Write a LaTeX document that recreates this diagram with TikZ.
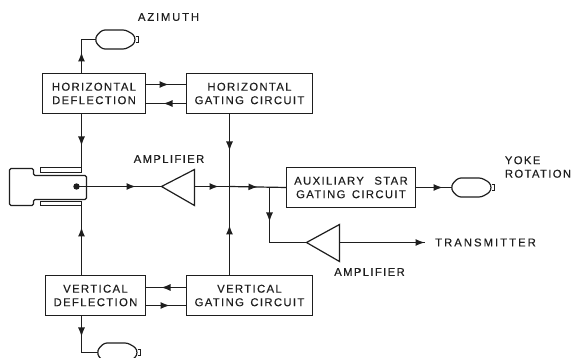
\documentclass[tikz,border=0pt]{standalone}
\usepackage{fontspec}
\setmainfont{Liberation Sans}[LetterSpace=12,FakeBold=0.25]
\usetikzlibrary{arrows.meta,decorations.markings}
\definecolor{ink}{HTML}{1E1E1E}
\tikzset{
  wire/.style={draw=ink,line width=1.2pt},
  tip/.style={wire,postaction={decorate},decoration={markings,
      mark=at position #1 with {\arrow[ink]{Latex[length=9pt,width=7pt]}}}},
  block/.style={draw=ink,line width=1.2pt,inner sep=0pt,outer sep=0pt,align=center,
      minimum height=40pt,text=ink,font=\fontsize{11.3}{13.5}\selectfont},
  label/.style={inner sep=0pt,text=ink,align=left,font=\fontsize{11.3}{13.5}\selectfont}
}
% lamp outline, drawn from its left end
\newcommand{\lamp}[1]{%
  \draw[wire,rounded corners=2.5pt] (#1) -- ++(1,-4) -- ++(6,-5.5) -- ++(23,0)
    -- ++(8,4.5) -- ++(2,5) -- ++(-2,5) -- ++(-8,4.5) -- ++(-23,0) -- ++(-6,-5.5) -- cycle;
  \draw[wire] (#1) ++(40,-3) -- ++(3,0) -- ++(0,6) -- ++(-3,0);
}
\begin{document}
\begin{tikzpicture}[x=1pt,y=-1pt]
  \useasboundingbox[fill=white] (0,0) rectangle (571,358);
  \clip (0,0) rectangle (571,358);

  % BLOCKS
  \node[block,minimum width=103pt] (hdefl) at (94,93.5) {HORIZONTAL\\DEFLECTION};
  \node[block,minimum width=126pt] (hgate) at (249.5,93.5) {HORIZONTAL\\GATING\hspace{2pt} CIRCUIT};
  \node[block,minimum width=100pt] (vdefl) at (95.5,295.5) {VERTICAL\\DEFLECTION};
  \node[block,minimum width=126pt] (vgate) at (249.5,295.5) {VERTICAL\\GATING\hspace{2pt} CIRCUIT};
  \node[block,minimum width=129pt] (auxgate) at (351,187.5) {AUXILIARY\hspace{6pt} STAR\\GATING\hspace{2pt} CIRCUIT};

  % TEXTS
  \node[label] (azimuth) at (168.5,17) {\addfontfeatures{LetterSpace=16}AZIMUTH};
  \node[label] (amptop) at (169,159) {AMPLIFIER};
  \node[label] (ampbot) at (369.5,272) {AMPLIFIER};
  \node[label] (yoke) at (538,167) {YOKE\\ROTATION};
  \node[label] (transmitter) at (485.5,242.5) {\addfontfeatures{LetterSpace=18}TRANSMITTER};

  % POINTS
  \coordinate (azlamp) at (95.5,39.5);
  \coordinate (yokelamp) at (451.5,187.5);
  \coordinate (vlamp) at (97.5,352.5);
  \coordinate (azcorner) at (81.5,39.5);
  \coordinate (vcorner) at (81.5,352.5);
  \coordinate (dot) at (76.5,186.5);
  \coordinate (topplate) at (81.5,172.5);
  \coordinate (botplate) at (81.5,205.5);
  \coordinate (amptip) at (161.5,186.5);
  \coordinate (ampbase) at (194.5,186.5);
  \coordinate (riser) at (229.5,186.5);
  \coordinate (branch) at (269.5,187.5);
  \coordinate (branchend) at (269.5,242.5);
  \coordinate (xmittip) at (306.5,242.5);
  \coordinate (xmitbase) at (339.5,242.5);
  \coordinate (xmitend) at (425,242.5);
  \coordinate (hfwd) at (165,84.5);
  \coordinate (hback) at (165,103.5);
  \coordinate (vback) at (165,287.5);
  \coordinate (vfwd) at (165,305.5);

  % TUBE
  \draw[wire,rounded corners=1.5pt] (9.5,168.5) -- (33.5,168.5) -- (33.5,175.5) -- (86.5,175.5)
     -- (86.5,199.5) -- (33.5,199.5) -- (33.5,205.5) -- (9.5,205.5) -- cycle;
  \draw[wire] (81.5,167.5) -- (40.5,167.5) -- (40.5,172.5) -- (81.5,172.5) -- cycle;
  \draw[wire] (81.5,201.5) -- (40.5,201.5) -- (40.5,205.5) -- (81.5,205.5) -- cycle;
  \fill[ink] (dot) circle (3.2pt);

  % AMPLIFIERS
  \draw[wire] (amptip) -- (194.5,169.5) -- (194.5,205.5) -- cycle;
  \draw[wire] (xmittip) -- (339.5,224.5) -- (339.5,261.5) -- cycle;

  % LAMPS
  \lamp{azlamp}
  \lamp{yokelamp}
  \lamp{vlamp}

  % ARROWS
  \draw[tip=21pt] (hdefl.north -| azcorner) -- (azcorner) -- (azlamp);
  \draw[tip=32pt] (hdefl.south -| topplate) -- (topplate);
  \draw[tip=48pt] (vdefl.north -| botplate) -- (botplate);
  \draw[tip=21pt] (vdefl.south -| vcorner) -- (vcorner) -- (vlamp);
  \draw[tip=23pt] (hdefl.east |- hfwd) -- (hgate.west |- hfwd);
  \draw[tip=23pt] (hgate.west |- hback) -- (hdefl.east |- hback);
  \draw[tip=25pt] (vgate.west |- vback) -- (vdefl.east |- vback);
  \draw[tip=24pt] (vdefl.east |- vfwd) -- (vgate.west |- vfwd);
  \draw[tip=59pt] (dot) -- (amptip);
  \draw[tip=24pt] (ampbase) -- (riser);
  \draw[tip=28pt] (riser) -- (auxgate.west);
  \draw[tip=37pt] (hgate.south -| riser) -- (riser);
  \draw[tip=50pt] (vgate.north -| riser) -- (riser);
  \draw[tip=34pt] (branch) -- (branchend) -- (xmittip);
  \draw[tip=85pt] (xmitbase) -- (xmitend);
  \draw[tip=27pt] (auxgate.east) -- (yokelamp);
\end{tikzpicture}
\end{document}
